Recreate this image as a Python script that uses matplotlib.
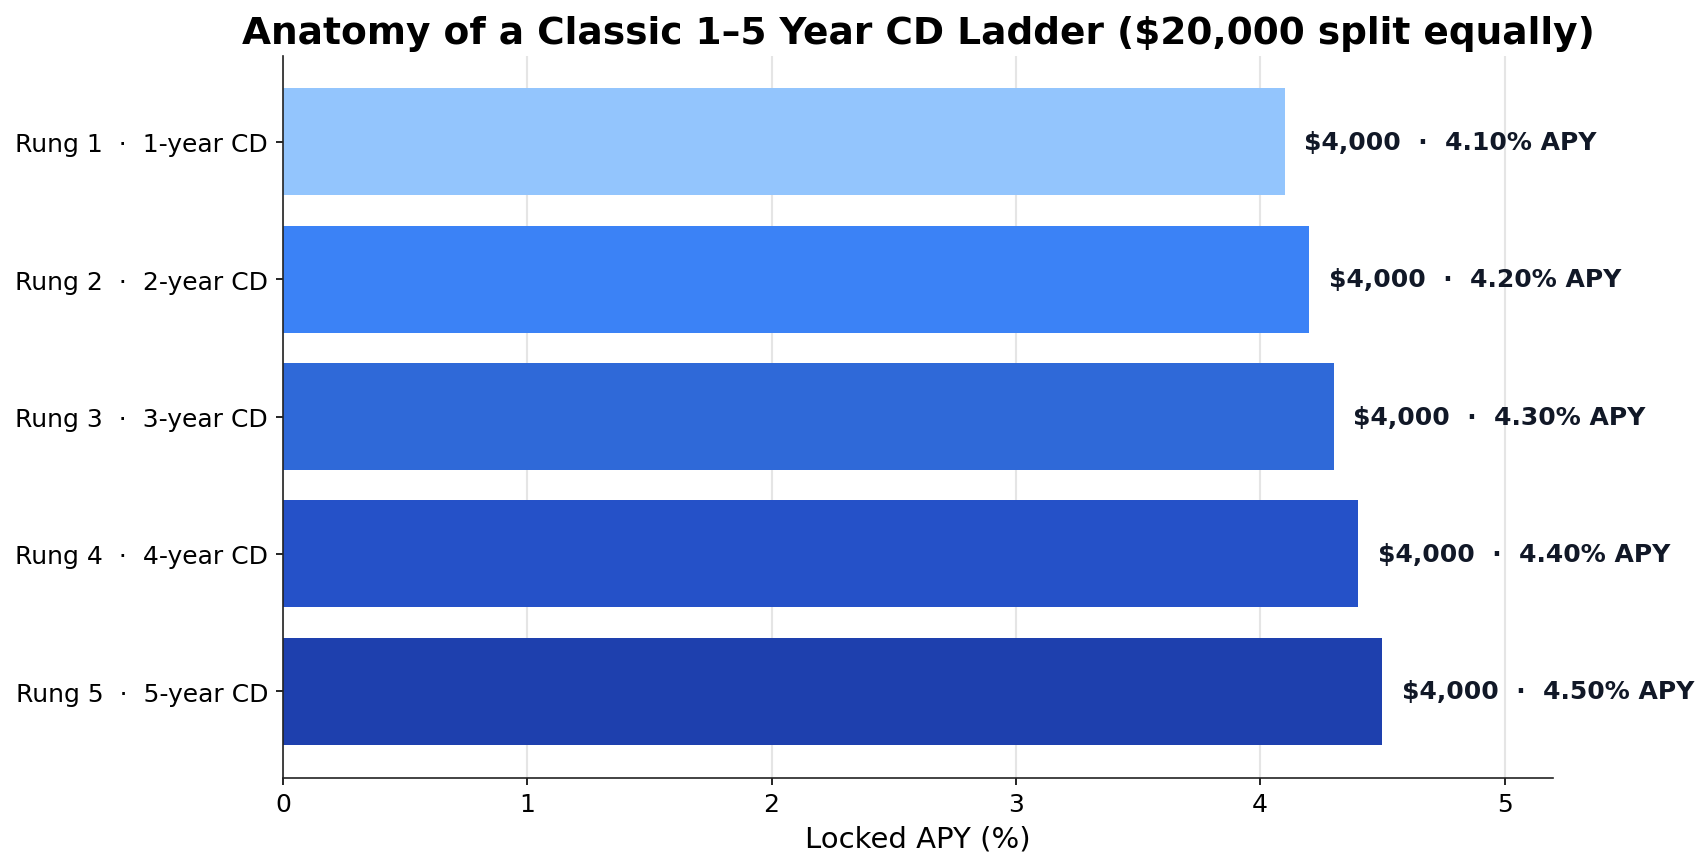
import matplotlib
matplotlib.use("Agg")
import matplotlib.pyplot as plt

# Ladder data
rungs = ["Rung 1  \u00b7  1-year CD", "Rung 2  \u00b7  2-year CD", "Rung 3  \u00b7  3-year CD",
         "Rung 4  \u00b7  4-year CD", "Rung 5  \u00b7  5-year CD"]
apy = [4.10, 4.20, 4.30, 4.40, 4.50]
amounts = [4000, 4000, 4000, 4000, 4000]
bar_colors = ["#93c5fd", "#3b82f6", "#2f69d8", "#2551c8", "#1e40ae"]


def main() -> None:
	fig = plt.figure(figsize=(11.393, 5.793), dpi=150)
	ax = fig.add_axes([0.1655, 0.104, 0.7435, 0.831])

	y = list(range(len(rungs)))
	ax.barh(y, apy, height=0.78, color=bar_colors, zorder=2)

	for yi, val, amt in zip(y, apy, amounts):
		ax.text(val + 0.08, yi, f"${amt:,}  \u00b7  {val:.2f}% APY", va="center", ha="left",
				fontsize=12, fontweight="bold", color="#111827", zorder=3)

	ax.set_yticks(y)
	ax.set_yticklabels(rungs, fontsize=12)
	ax.invert_yaxis()
	ax.set_xlim(0, 5.2)
	ax.set_xticks([0, 1, 2, 3, 4, 5])
	ax.tick_params(axis="x", labelsize=12)
	ax.set_xlabel("Locked APY (%)", fontsize=14)
	ax.set_title("Anatomy of a Classic 1\u20135 Year CD Ladder ($20,000 split equally)",
				 fontsize=18, fontweight="bold")

	ax.grid(axis="x", color="#e5e5e5", lw=1.0, zorder=0)
	ax.set_axisbelow(True)
	for side in ("top", "right"):
		ax.spines[side].set_visible(False)
	for side in ("left", "bottom"):
		ax.spines[side].set_color("#222222")

	fig.savefig("out.png", dpi=150)


if __name__ == "__main__":
	main()
